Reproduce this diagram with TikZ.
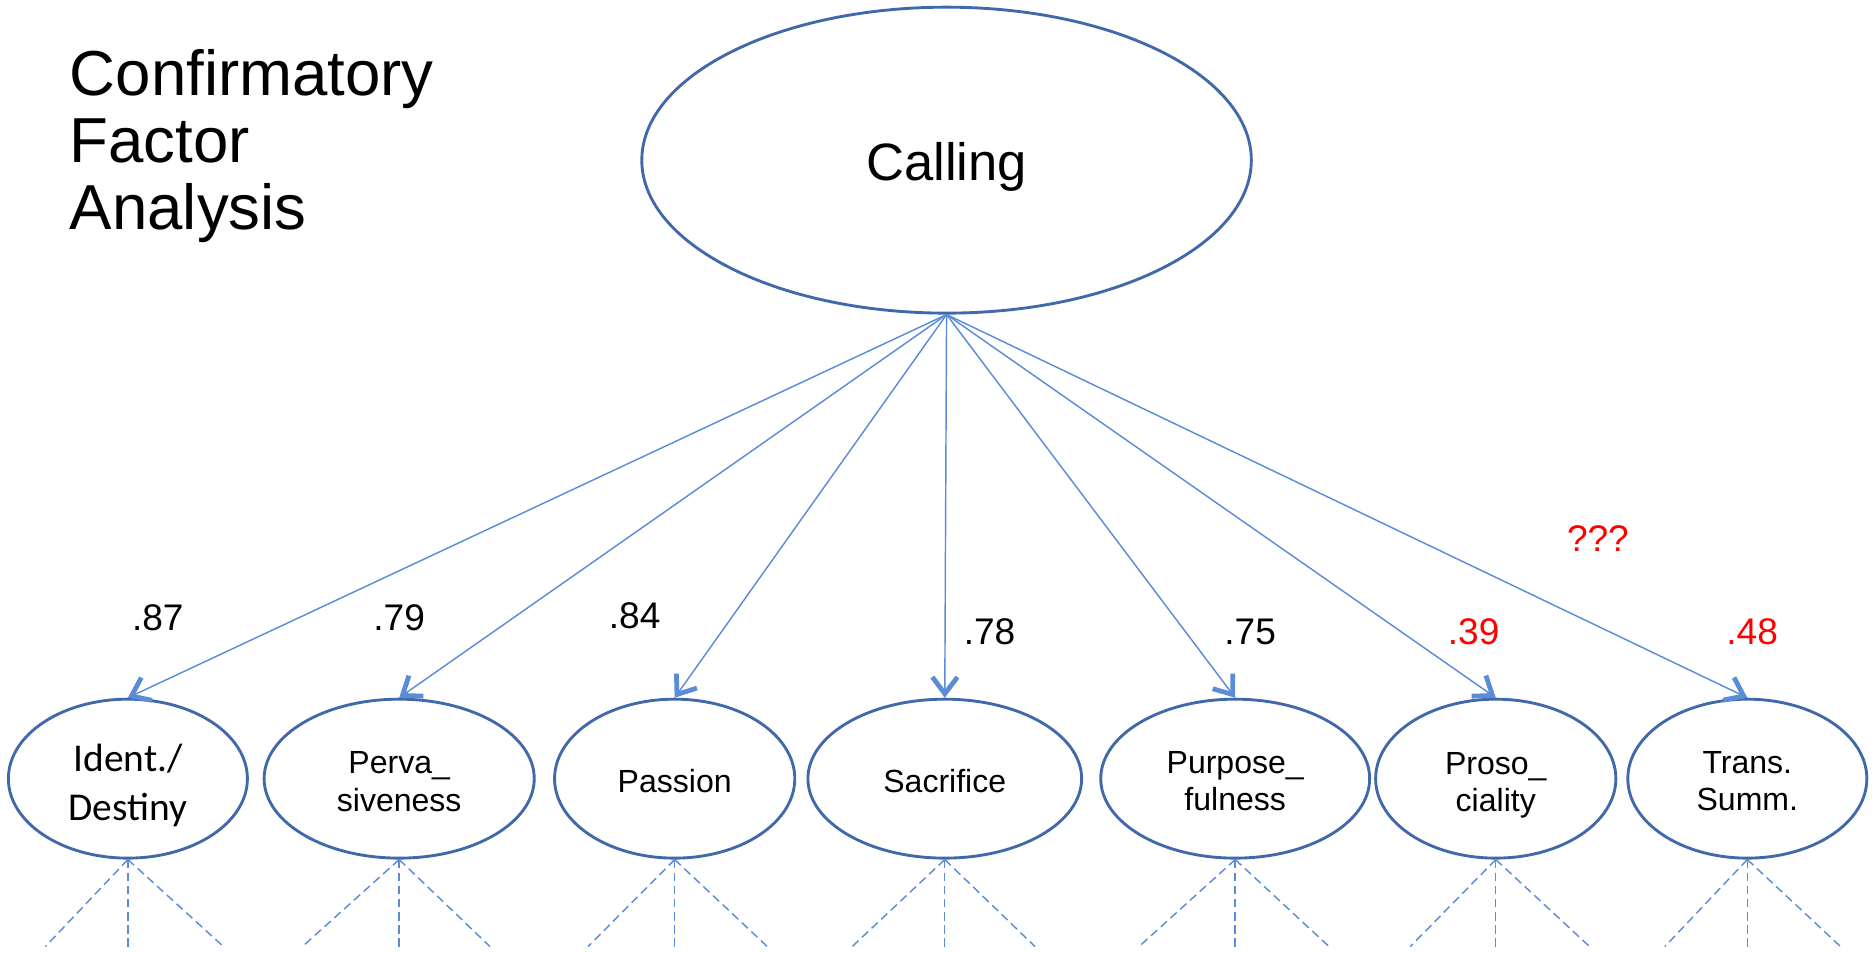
\documentclass[tikz,border=0pt]{standalone}
\usepackage{fontspec}
\setmainfont{Liberation Sans}
\newfontfamily\calibri{Carlito}
\usetikzlibrary{shapes.geometric,arrows.meta}
\definecolor{ellblue}{RGB}{65,105,170}
\definecolor{lineblue}{RGB}{90,140,215}
\definecolor{redlbl}{RGB}{255,0,0}
\begin{document}
\begin{tikzpicture}[x=0.5pt,y=-0.5pt,
  factor/.style={ellipse,draw=ellblue,line width=1.2pt,inner sep=0pt,minimum height=66.5pt},
  flabel/.style={align=center,inner sep=0pt,font=\fontsize{13.4}{15.5}\selectfont},
  load/.style={draw=lineblue,line width=0.6pt,-{Straight Barb[length=7pt,width=10.5pt,line width=2pt]}},
  ind/.style={draw=lineblue,line width=0.6pt,dash pattern=on 3.5pt off 2pt},
  coef/.style={inner sep=0pt,font=\fontsize{15.5}{18}\selectfont},
  redcoef/.style={coef,text=redlbl}]
\useasboundingbox (0,0) rectangle (1568,797);
\fill[white] (0,0) rectangle (1568,797);

\node[anchor=north west,align=left,inner sep=0pt,font=\fontsize{26.6}{28}\selectfont] (title) at (58,41) {Confirmatory\\Factor\\Analysis};

\node[ellipse,draw=ellblue,line width=1.2pt,inner sep=0pt,minimum width=255pt,minimum height=128pt] (calling) at (792,134) {};
\node[inner sep=0pt,font=\fontsize{22}{26}\selectfont] (callingtext) at ([yshift=-3pt]calling.center) {Calling};

\node[factor,minimum width=100pt] (f1) at (107,651.5) {};
\node[factor,minimum width=113pt] (f2) at (334,651.5) {};
\node[factor,minimum width=100.5pt] (f3) at (564.5,651.5) {};
\node[factor,minimum width=114.5pt] (f4) at (790.5,651.5) {};
\node[factor,minimum width=112.5pt] (f5) at (1033.5,651.5) {};
\node[factor,minimum width=100.5pt] (f6) at (1251.5,651.5) {};
\node[factor,minimum width=100pt] (f7) at (1462,651.5) {};

\node[flabel,font=\calibri\fontsize{16.5}{20.5}\selectfont] (t1) at ([yshift=-2.75pt]f1.center) {Ident./\\Destiny};
\node[flabel] (t2) at ([yshift=-1.25pt]f2.center) {Perva\_\\siveness};
\node[flabel] (t3) at ([yshift=-1pt]f3.center) {Passion};
\node[flabel] (t4) at ([yshift=-1pt]f4.center) {Sacrifice};
\node[flabel] (t5) at ([yshift=-1pt]f5.center) {Purpose\_\\fulness};
\node[flabel] (t6) at ([yshift=-2.75pt]f6.center) {Proso\_\\ciality};
\node[flabel] (t7) at ([yshift=-1pt]f7.center) {Trans.\\Summ.};

\foreach \i in {1,...,7} \draw[load] (calling.south) -- (f\i.north);

\node[coef] (c1) at (132,517) {.87};
\node[coef] (c2) at (334,517) {.79};
\node[coef] (c3) at (531,515) {.84};
\node[coef] (c4) at (828,529) {.78};
\node[coef] (c5) at (1046,529) {.75};
\node[redcoef] (c6) at (1233,529) {.39};
\node[redcoef] (c7) at (1466,529) {.48};
\node[redcoef] (q) at (1337,451) {???};

\coordinate (d1a) at (38,792);   \coordinate (d1b) at (107,792);  \coordinate (d1c) at (187,792);
\coordinate (d2a) at (253,792);  \coordinate (d2b) at (334,792);  \coordinate (d2c) at (410,792);
\coordinate (d3a) at (492,792);  \coordinate (d3b) at (564.5,792);\coordinate (d3c) at (642,792);
\coordinate (d4a) at (713,792);  \coordinate (d4b) at (790.5,792);\coordinate (d4c) at (866,792);
\coordinate (d5a) at (953,792);  \coordinate (d5b) at (1033.5,792);\coordinate (d5c) at (1112,792);
\coordinate (d6a) at (1180,792); \coordinate (d6b) at (1251.5,792);\coordinate (d6c) at (1330,792);
\coordinate (d7a) at (1393,792); \coordinate (d7b) at (1462,792); \coordinate (d7c) at (1540,792);

\foreach \i in {1,...,7} {
  \draw[ind] (f\i.south) -- (d\i a);
  \draw[ind] (f\i.south) -- (d\i b);
  \draw[ind] (f\i.south) -- (d\i c);
}
\end{tikzpicture}
\end{document}
